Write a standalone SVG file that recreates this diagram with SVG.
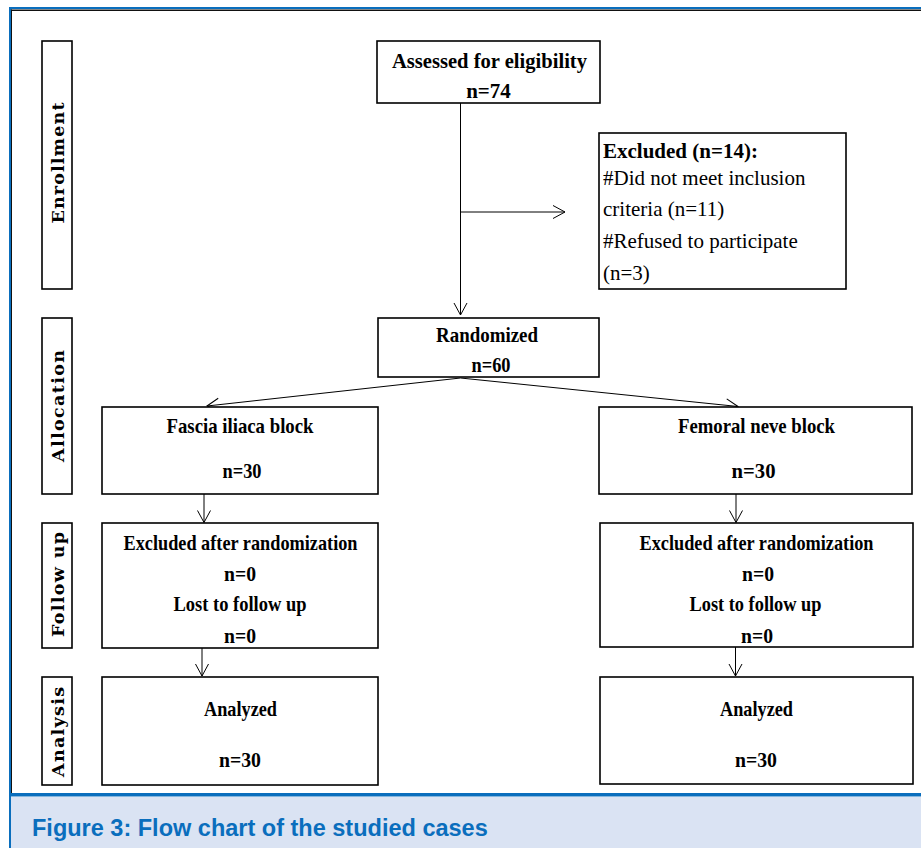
<svg xmlns="http://www.w3.org/2000/svg" width="921" height="848" viewBox="0 0 921 848">
<style>
.box{fill:#fff;stroke:#000;stroke-width:1.6}
.side{font-family:"DejaVu Serif","Liberation Serif",serif;font-weight:bold;font-size:17.5px;fill:#000;text-anchor:middle}
.t{font-family:"Liberation Serif","Times New Roman",serif;font-size:21px;fill:#000}
.b{font-weight:bold}
.c{text-anchor:middle}
.conn line{stroke:#000;stroke-width:1;fill:none}
.arr{marker-end:url(#arr)}
.cap{font-family:"Liberation Sans",Arial,sans-serif;font-weight:bold;font-size:23.5px;fill:#0a6ebd}
</style>
<defs>
<marker id="arr" markerUnits="userSpaceOnUse" markerWidth="16" markerHeight="16" viewBox="-14 -8 16 16" refX="0" refY="0" orient="auto">
<path d="M-12,-6.5 L0,0 L-12,6.5" fill="none" stroke="#000" stroke-width="1"/>
</marker>
</defs>

<g id="frame">
<rect x="0" y="0" width="921" height="848" fill="#fff"/>
<rect x="11" y="797" width="910" height="51" fill="#dae3f3"/>
<rect x="9" y="7" width="912" height="2" fill="#0a6ebd"/>
<rect x="9" y="9.5" width="912" height="1.5" fill="#111"/>
<rect x="9" y="7" width="2" height="841" fill="#0a6ebd"/>
<rect x="11" y="9.5" width="1" height="785" fill="#111"/>
<rect x="9" y="793" width="912" height="3.5" fill="#0a6ebd"/>
</g>

<g id="caption">
<text class="cap" x="32" y="836">Figure 3: Flow chart of the studied cases</text>
</g>

<g id="label-enrollment">
<rect class="box" x="42" y="41" width="30" height="248"/>
<text class="side" transform="translate(63.5,163) rotate(-90)" textLength="121" lengthAdjust="spacing">Enrollment</text>
</g>
<g id="label-allocation">
<rect class="box" x="42" y="318" width="30" height="176"/>
<text class="side" transform="translate(63.5,406) rotate(-90)" textLength="112" lengthAdjust="spacing">Allocation</text>
</g>
<g id="label-followup">
<rect class="box" x="42" y="523" width="30" height="125"/>
<text class="side" transform="translate(63.5,584.5) rotate(-90)" textLength="105" lengthAdjust="spacing">Follow up</text>
</g>
<g id="label-analysis">
<rect class="box" x="42" y="677" width="30" height="108"/>
<text class="side" transform="translate(63.5,732) rotate(-90)" textLength="90" lengthAdjust="spacing">Analysis</text>
</g>

<g id="connectors" class="conn">
<line x1="460.5" y1="103" x2="460.5" y2="315" class="arr"/>
<line x1="460.5" y1="212" x2="565" y2="212" class="arr"/>
<line x1="460.5" y1="378" x2="207" y2="406" class="arr"/>
<line x1="460.5" y1="378" x2="738" y2="406.5" class="arr"/>
<line x1="204" y1="494" x2="204" y2="522.5" class="arr"/>
<line x1="736" y1="494" x2="736" y2="522.5" class="arr"/>
<line x1="202" y1="648" x2="202" y2="676" class="arr"/>
<line x1="735.5" y1="647" x2="735.5" y2="676" class="arr"/>
</g>

<g id="assessed">
<rect class="box" x="377" y="41" width="223" height="62"/>
<text class="t b c" x="489.5" y="68" textLength="195" lengthAdjust="spacingAndGlyphs">Assessed for eligibility</text>
<text class="t b c" x="488.5" y="97.5">n=74</text>
</g>

<g id="excluded">
<rect class="box" x="599" y="133" width="247" height="156"/>
<text class="t b" x="603" y="158">Excluded (n=14):</text>
<text class="t" x="603" y="185">#Did not meet inclusion</text>
<text class="t" x="603" y="216">criteria (n=11)</text>
<text class="t" x="603" y="248">#Refused to participate</text>
<text class="t" x="603" y="280">(n=3)</text>
</g>

<g id="randomized">
<rect class="box" x="378" y="318" width="221" height="59"/>
<text class="t b c" x="487" y="342" textLength="102" lengthAdjust="spacingAndGlyphs">Randomized</text>
<text class="t b c" x="491" y="371.5" textLength="39" lengthAdjust="spacingAndGlyphs">n=60</text>
</g>

<g id="fascia">
<rect class="box" x="102" y="407" width="276" height="87"/>
<text class="t b c" x="240" y="433" textLength="147" lengthAdjust="spacingAndGlyphs">Fascia iliaca block</text>
<text class="t b c" x="242" y="478" textLength="39" lengthAdjust="spacingAndGlyphs">n=30</text>
</g>

<g id="femoral">
<rect class="box" x="599" y="407" width="313" height="87"/>
<text class="t b c" x="756.5" y="433" textLength="157" lengthAdjust="spacingAndGlyphs">Femoral neve block</text>
<text class="t b c" x="753.5" y="478" textLength="44" lengthAdjust="spacingAndGlyphs">n=30</text>
</g>

<g id="followup-left">
<rect class="box" x="102" y="523" width="276" height="125"/>
<text class="t b c" x="240.5" y="550" textLength="234" lengthAdjust="spacingAndGlyphs">Excluded after randomization</text>
<text class="t b c" x="240" y="580.5" textLength="32" lengthAdjust="spacingAndGlyphs">n=0</text>
<text class="t b c" x="240" y="610.5" textLength="133" lengthAdjust="spacingAndGlyphs">Lost to follow up</text>
<text class="t b c" x="240" y="642.5" textLength="32" lengthAdjust="spacingAndGlyphs">n=0</text>
</g>

<g id="followup-right">
<rect class="box" x="600" y="523" width="313" height="124"/>
<text class="t b c" x="756.5" y="550" textLength="234" lengthAdjust="spacingAndGlyphs">Excluded after randomization</text>
<text class="t b c" x="758" y="580.5" textLength="32" lengthAdjust="spacingAndGlyphs">n=0</text>
<text class="t b c" x="755.5" y="610.5" textLength="132" lengthAdjust="spacingAndGlyphs">Lost to follow up</text>
<text class="t b c" x="757" y="642.5" textLength="32" lengthAdjust="spacingAndGlyphs">n=0</text>
</g>

<g id="analysis-left">
<rect class="box" x="102" y="677" width="276" height="108"/>
<text class="t b c" x="240.5" y="716" textLength="73" lengthAdjust="spacingAndGlyphs">Analyzed</text>
<text class="t b c" x="240" y="767" textLength="42" lengthAdjust="spacingAndGlyphs">n=30</text>
</g>

<g id="analysis-right">
<rect class="box" x="600" y="677" width="313" height="107"/>
<text class="t b c" x="756.5" y="716" textLength="73" lengthAdjust="spacingAndGlyphs">Analyzed</text>
<text class="t b c" x="756" y="767" textLength="42" lengthAdjust="spacingAndGlyphs">n=30</text>
</g>
</svg>
